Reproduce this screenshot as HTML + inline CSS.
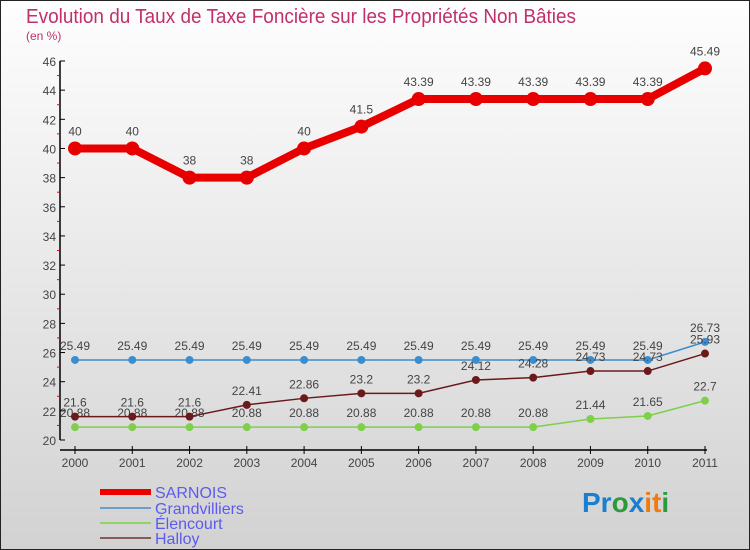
<!DOCTYPE html>
<html><head><meta charset="utf-8"><style>
body{margin:0;}
#wrap{width:750px;height:550px;position:relative;overflow:hidden;}
svg text{font-family:"Liberation Sans",sans-serif;}
</style></head><body>
<div id="wrap">
<svg id="chart" width="750" height="550">
<defs><linearGradient id="bg" x1="0" y1="0" x2="0" y2="1"><stop offset="0" stop-color="#fefefe"/><stop offset="1" stop-color="#d2d2d2"/></linearGradient></defs>
<rect x="0.5" y="0.5" width="749" height="549" fill="url(#bg)" stroke="#222"/>
<text x="26" y="23" font-size="20" fill="#c0306a" textLength="550" lengthAdjust="spacingAndGlyphs">Evolution du Taux de Taxe Foncière sur les Propriétés Non Bâties</text>
<text x="26" y="40" font-size="12" fill="#c0306a">(en %)</text>
<g id="axes"></g><g id="series"></g>
<g>
<line x1="100" y1="492" x2="151" y2="492" stroke="#e00" stroke-width="6"/><text x="155" y="498" font-size="16" fill="#5b5bf0">SARNOIS</text>
<line x1="100" y1="508" x2="151" y2="508" stroke="#6a9fc8" stroke-width="2"/><text x="155" y="514" font-size="16" fill="#5b5bf0">Grandvilliers</text>
<line x1="100" y1="523" x2="151" y2="523" stroke="#8fd468" stroke-width="2"/><text x="155" y="529" font-size="16" fill="#5b5bf0">Élencourt</text>
<line x1="100" y1="538" x2="151" y2="538" stroke="#8a5a5a" stroke-width="2"/><text x="155" y="544" font-size="16" fill="#5b5bf0">Halloy</text>
</g>
<text x="582" y="512" font-size="28" font-weight="bold"><tspan fill="#1a7fd0">Pr</tspan><tspan fill="#2a9a3a">o</tspan><tspan fill="#1a7fd0">x</tspan><tspan fill="#f07a10">it</tspan><tspan fill="#2a9a3a">i</tspan></text>
</svg></div>
<script>
const years=[2000,2001,2002,2003,2004,2005,2006,2007,2008,2009,2010,2011];
const yTicks=[20,22,24,26,28,30,32,34,36,38,40,42,44,46];
const sarnois=[40,40,38,38,40,41.5,43.39,43.39,43.39,43.39,43.39,45.49];
const grand=[25.49,25.49,25.49,25.49,25.49,25.49,25.49,25.49,25.49,25.49,25.49,26.73];
const elen=[20.88,20.88,20.88,20.88,20.88,20.88,20.88,20.88,20.88,21.44,21.65,22.7];
const halloy=[21.6,21.6,21.6,22.41,22.86,23.2,23.2,24.12,24.28,24.73,24.73,25.93];
const NS="http://www.w3.org/2000/svg";
const xS=i=>75+i*(630/11);
const yS=v=>440-(v-20)*(379/26);
function mk(t,a,p){const e=document.createElementNS(NS,t);for(const k in a)e.setAttribute(k,a[k]);p.appendChild(e);return e;}
const ax=document.getElementById('axes'),se=document.getElementById('series');
mk('line',{x1:60,y1:yS(46),x2:60,y2:yS(20),stroke:'#000','stroke-width':1.5},ax);
mk('line',{x1:60,y1:450,x2:707,y2:450,stroke:'#000','stroke-width':1.5},ax);
yTicks.forEach(v=>{
 mk('line',{x1:60,y1:yS(v),x2:65,y2:yS(v),stroke:'#000'},ax);
 if(v<46)mk('line',{x1:57,y1:yS(v+1),x2:60,y2:yS(v+1),stroke:'#e00'},ax);
 const t=mk('text',{x:56,y:yS(v)+5,'font-size':12,'text-anchor':'end',fill:'#444'},ax);t.textContent=v;
 
 
});
years.forEach((y,i)=>{
 mk('line',{x1:xS(i),y1:446,x2:xS(i),y2:454,stroke:'#000'},ax);
 const t=mk('text',{x:xS(i),y:467,'font-size':12,'text-anchor':'middle',fill:'#444'},ax);t.textContent=y;
 
 
});
function series(d,color,w,r,name){
 const g=mk('g',{},se);
 
 
 mk('polyline',{points:d.map((v,i)=>xS(i)+','+yS(v)).join(' '),fill:'none',stroke:color,'stroke-width':w},g);
 d.forEach((v,i)=>{
  const c=mk('circle',{cx:xS(i),cy:yS(v),r:r,fill:color},g);
  
  
  const t=mk('text',{x:xS(i),y:yS(v)-r-6,'font-size':12,'text-anchor':'middle',fill:'#444'},g);t.textContent=v;
 });
}
series(grand,'#3a8ed0',1.5,4,'grandvilliers-series');
series(elen,'#7ed04a',1.5,4,'elencourt-series');
series(halloy,'#6a1a1a',1.5,4,'halloy-series');
series(sarnois,'#e80000',8,7,'sarnois-series');
</script>
</body></html>
